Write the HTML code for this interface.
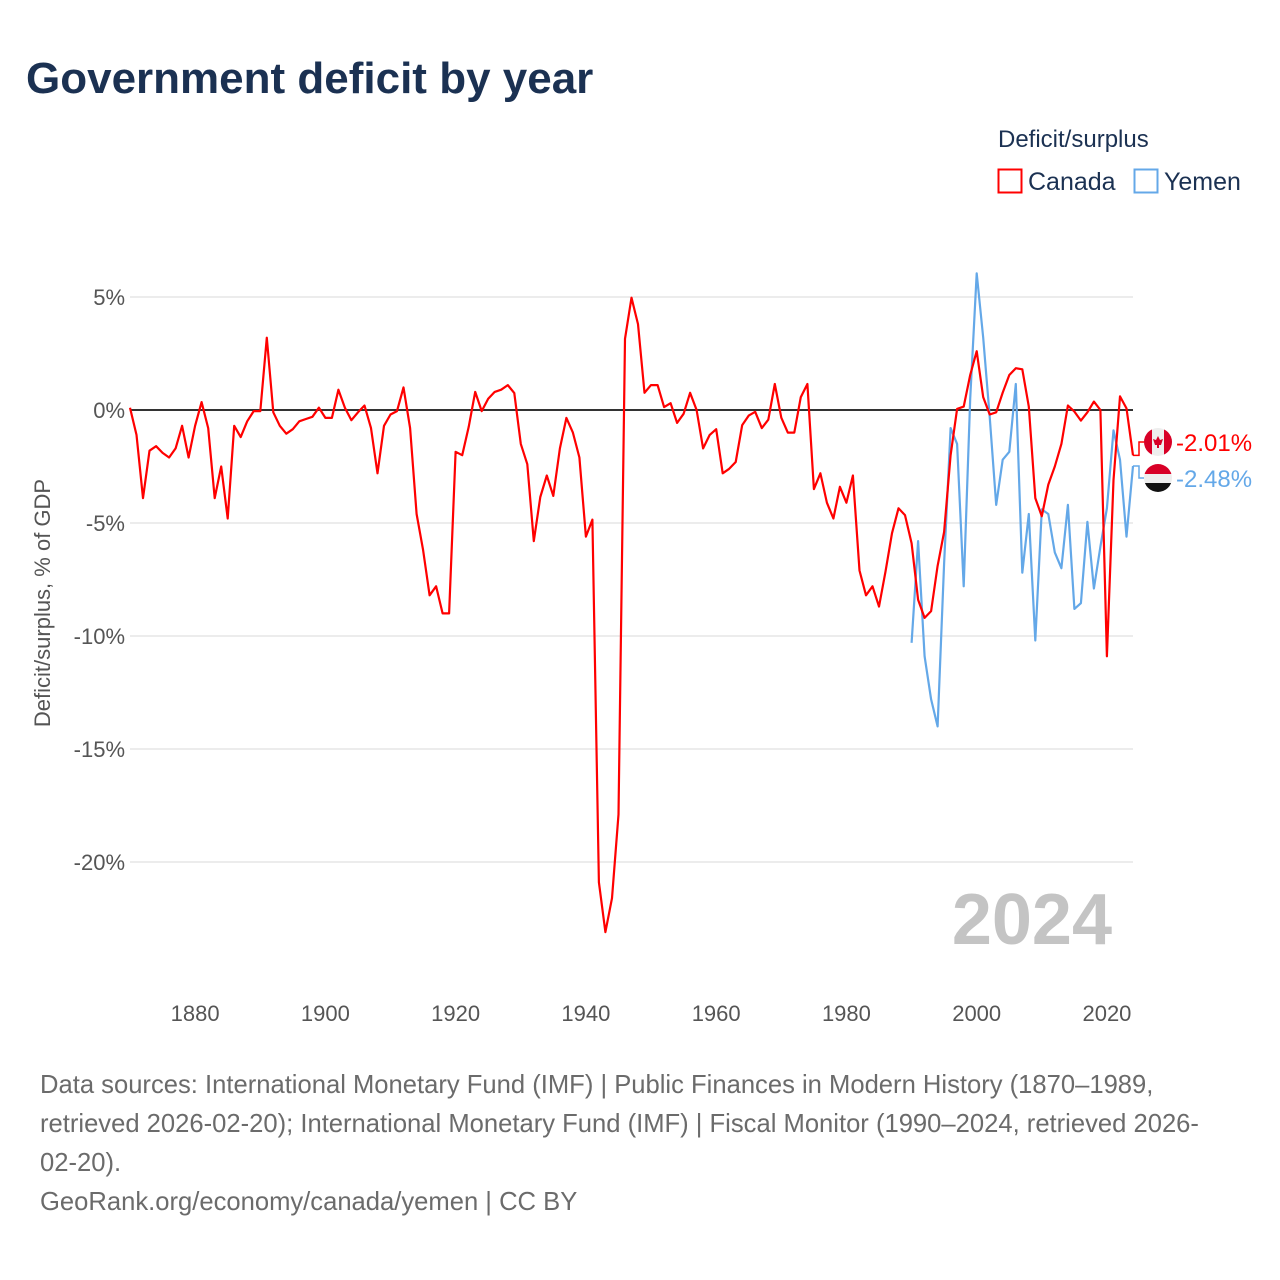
<!DOCTYPE html>
<html><head><meta charset="utf-8">
<style>
body{margin:0;background:#fff;font-family:"Liberation Sans",sans-serif;}
#wrap{position:relative;width:1280px;height:1280px;overflow:hidden;}
svg text{font-family:"Liberation Sans",sans-serif;}
</style></head>
<body>
<div id="wrap">
<svg id="chart" width="1280" height="1280">
<text x="26" y="93" font-size="44" font-weight="bold" fill="#1b3152">Government deficit by year</text>
<g>
<text x="998" y="147" font-size="24" fill="#1b3152">Deficit/surplus</text>
<g>
<rect x="998.5" y="169.5" width="23" height="23" fill="none" stroke="#ff0000" stroke-width="2"/>
<text x="1028" y="190" font-size="25" fill="#1b3152">Canada</text></g>
<g>
<rect x="1134.5" y="169.5" width="23" height="23" fill="none" stroke="#64a8e8" stroke-width="2"/>
<text x="1164" y="190" font-size="25" fill="#1b3152">Yemen</text></g>
</g>
<g id="grid"></g>
<g id="yticks"></g>
<g id="xticks"></g>
<text transform="translate(50,603) rotate(-90)" text-anchor="middle" font-size="22" fill="#555">Deficit/surplus, % of GDP</text>
<text x="1112" y="944" text-anchor="end" font-size="72" font-weight="bold" fill="#c4c4c4">2024</text>
<g id="series"></g>
<g id="ends"></g>
<text font-size="25.6" fill="#6b6b6b">
<tspan x="40" y="1093">Data sources: International Monetary Fund (IMF) | Public Finances in Modern History (1870–1989,</tspan>
<tspan x="40" y="1132">retrieved 2026-02-20); International Monetary Fund (IMF) | Fiscal Monitor (1990–2024, retrieved 2026-</tspan>
<tspan x="40" y="1171">02-20).</tspan>
</text>
<text x="40" y="1210" font-size="25.6" fill="#6b6b6b">GeoRank.org/economy/canada/yemen | CC BY</text>
</svg>
</div>
<script>
const canadaStart = 1870;
const canadaValues = [0.1,-1.1,-3.9,-1.8,-1.6,-1.9,-2.1,-1.7,-0.7,-2.1,-0.7,0.35,-0.8,-3.9,-2.5,-4.8,-0.7,-1.2,-0.5,-0.05,
-0.05,3.2,-0.1,-0.7,-1.05,-0.85,-0.5,-0.4,-0.3,0.1,-0.35,-0.35,0.9,0.1,-0.45,-0.1,0.2,-0.8,-2.8,-0.7,
-0.2,-0.05,1.0,-0.8,-4.6,-6.2,-8.2,-7.8,-9.0,-9.0,-1.85,-2.0,-0.75,0.8,-0.05,0.5,0.8,0.9,1.1,0.75,
-1.5,-2.4,-5.8,-3.85,-2.9,-3.8,-1.7,-0.35,-1.0,-2.1,-5.6,-4.85,-20.9,-23.1,-21.6,-17.9,3.15,4.97,3.8,0.76,
1.1,1.1,0.13,0.3,-0.57,-0.17,0.76,0.0,-1.7,-1.1,-0.85,-2.8,-2.6,-2.3,-0.67,-0.25,-0.08,-0.8,-0.43,1.15,
-0.34,-1.0,-1.0,0.57,1.15,-3.5,-2.8,-4.1,-4.8,-3.4,-4.1,-2.9,-7.1,-8.2,-7.8,-8.7,-7.15,-5.45,-4.35,-4.65,
-5.9,-8.4,-9.2,-8.9,-6.9,-5.4,-2.0,0.05,0.15,1.55,2.6,0.57,-0.2,-0.1,0.77,1.55,1.85,1.8,0.15,-3.9,
-4.7,-3.3,-2.5,-1.5,0.2,-0.07,-0.47,-0.1,0.37,0.0,-10.9,-3.1,0.6,0.07,-2.01];
const yemenStart = 1990;
const yemenValues = [-10.3,-5.8,-10.9,-12.8,-14.0,-6.8,-0.8,-1.5,-7.8,0.5,6.05,3.2,-0.3,-4.2,-2.2,-1.85,1.15,-7.2,-4.6,-10.2,
-4.4,-4.6,-6.3,-7.0,-4.2,-8.8,-8.55,-4.95,-7.9,-6.05,-4.35,-0.9,-2.2,-5.6,-2.48];
const yTicks = [5,0,-5,-10,-15,-20];
const yTickLabels = ["5%","0%","-5%","-10%","-15%","-20%"];
const xTicks = [1880,1900,1920,1940,1960,1980,2000,2020];

const NS = "http://www.w3.org/2000/svg";
const X = yr => 130 + (yr - 1870) * (1003 / 154);
const Y = v => 410 - v * 22.6;
function mk(tag, attrs, parent){const e=document.createElementNS(NS,tag);for(const k in attrs)e.setAttribute(k,attrs[k]);parent.appendChild(e);return e;}

const grid=document.getElementById('grid'), yt=document.getElementById('yticks'), xt=document.getElementById('xticks');
yTicks.forEach((v,i)=>{
  if(v!==0){
    const l=mk('line',{x1:130,x2:1133,y1:Y(v),y2:Y(v),stroke:'#e6e6e6','stroke-width':1.5},grid);
    
    
  }
  const t=mk('text',{x:125,y:Y(v)+8,'text-anchor':'end','font-size':22,fill:'#555'},yt);
  t.textContent=yTickLabels[i];
  
  
});
xTicks.forEach(yr=>{
  const t=mk('text',{x:X(yr),y:1021,'text-anchor':'middle','font-size':22,fill:'#555'},xt);
  t.textContent=yr;
  
  
});
const zl=mk('line',{x1:130,x2:1133,y1:Y(0),y2:Y(0),stroke:'#333','stroke-width':2},grid);



const ser=document.getElementById('series');
function line(start, vals, color, name){
  const pts=vals.map((v,i)=>X(start+i).toFixed(1)+','+Y(v).toFixed(1)).join(' ');
  const p=mk('polyline',{points:pts,fill:'none',stroke:color,'stroke-width':2.2,'stroke-linejoin':'round'},ser);
  
  
}
line(yemenStart,yemenValues,'#64a8e8','yemen-line');
line(canadaStart,canadaValues,'#ff0000','canada-line');

const ends=document.getElementById('ends');
function endLabel(vals,start,color,fy,name,txt,flag){
  const last=vals[vals.length-1], ex=X(start+vals.length-1), ey=Y(last);
  const c=mk('polyline',{points:`${ex},${ey} ${ex+6},${ey} ${ex+6},${fy} ${ex+11},${fy}`,fill:'none',stroke:color,'stroke-width':1.5},ends);
  
  
  const g=mk('g',{},ends);
  
  
  const cx=1158,r=14;
  const cp=mk('clipPath',{id:'cp'+name},g);
  mk('circle',{cx:cx,cy:fy,r:r},cp);
  const inner=mk('g',{'clip-path':`url(#cp${name})`},g);
  if(flag==='ca'){
    mk('rect',{x:cx-r,y:fy-r,width:2*r,height:2*r,fill:'#eee'},inner);
    mk('rect',{x:cx-r,y:fy-r,width:8,height:2*r,fill:'#d80027'},inner);
    mk('rect',{x:cx+r-8,y:fy-r,width:8,height:2*r,fill:'#d80027'},inner);
    mk('path',{d:`M${cx},${fy-6} L${cx+2},${fy-2} L${cx+5},${fy-3} L${cx+3},${fy+3} L${cx+1},${fy+3} L${cx+1},${fy+6} L${cx-1},${fy+6} L${cx-1},${fy+3} L${cx-3},${fy+3} L${cx-5},${fy-3} L${cx-2},${fy-2} Z`,fill:'#d80027'},inner);
  } else {
    mk('rect',{x:cx-r,y:fy-r,width:2*r,height:10,fill:'#d80027'},inner);
    mk('rect',{x:cx-r,y:fy-4,width:2*r,height:9,fill:'#eee'},inner);
    mk('rect',{x:cx-r,y:fy+5,width:2*r,height:10,fill:'#111'},inner);
  }
  const t=mk('text',{x:1176,y:fy+9,'font-size':24,fill:color},ends);
  t.textContent=txt;
  
  
}
endLabel(canadaValues,canadaStart,'#ff0000',442,'canada','-'+Math.abs(canadaValues[canadaValues.length-1]).toFixed(2)+'%','ca');
endLabel(yemenValues,yemenStart,'#64a8e8',478,'yemen','-'+Math.abs(yemenValues[yemenValues.length-1]).toFixed(2)+'%','ye');
</script>
</body></html>
